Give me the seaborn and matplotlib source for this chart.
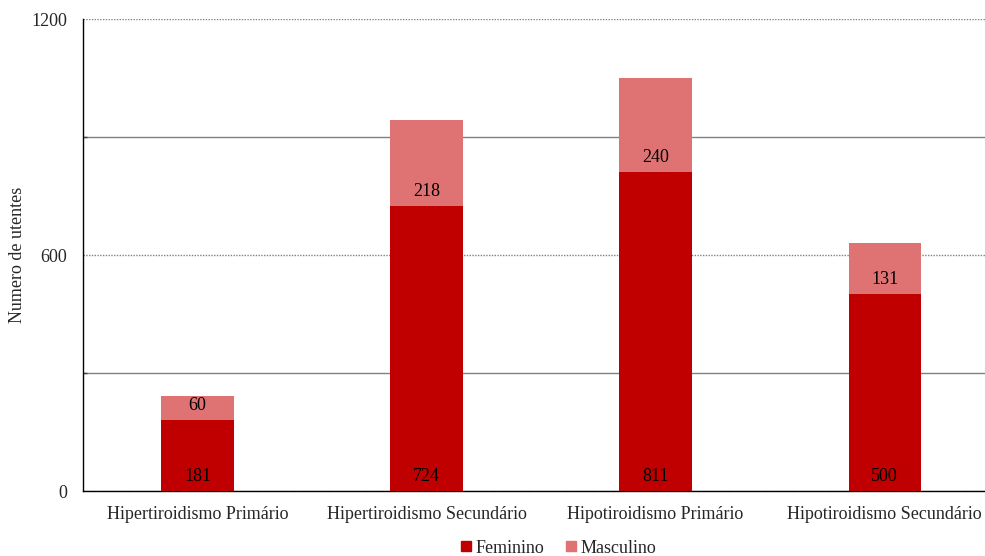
import matplotlib
matplotlib.use("Agg")
import matplotlib.pyplot as plt
from matplotlib.lines import Line2D
from matplotlib.ticker import MultipleLocator
import seaborn as sns
import pandas as pd

categorias = ["Hipertiroidismo Primário", "Hipertiroidismo Secundário",
              "Hipotiroidismo Primário", "Hipotiroidismo Secundário"]
feminino = [181, 724, 811, 500]
masculino = [60, 218, 240, 131]
y_ticks = [0, 600, 1200]

cor_fem = "#C00000"
cor_masc = "#DF7373"

sns.set_theme(style="white")
plt.rcParams["font.family"] = ["Liberation Serif", "DejaVu Serif"]

df = pd.DataFrame({
    "categoria": categorias,
    "Feminino": feminino,
    "Masculino": masculino,
})
df["total"] = df["Feminino"] + df["Masculino"]

fig = plt.figure(figsize=(9.85, 5.56), dpi=100)
ax = fig.add_axes([0.0843, 0.1169, 0.930, 0.8489])

# stacked bars: total in the light tone, female share drawn over it
sns.barplot(data=df, x="categoria", y="total", color=cor_masc, width=0.315,
            saturation=1, linewidth=0, ax=ax, zorder=3)
sns.barplot(data=df, x="categoria", y="Feminino", color=cor_fem, width=0.315,
            saturation=1, linewidth=0, ax=ax, zorder=4)

for i, (f, m) in enumerate(zip(feminino, masculino)):
    ax.annotate(str(f), (i, 0), xytext=(0, 10.5), textcoords="offset points",
                ha="center", va="center", fontsize=13, color="black", zorder=5)
    ax.annotate(str(m), (i, f), xytext=(0, 10.5), textcoords="offset points",
                ha="center", va="center", fontsize=13, color="black", zorder=5)

ax.set_ylim(0, 1200)
ax.set_xlim(-0.5, len(categorias) - 0.5)
ax.set_yticks(y_ticks)
ax.yaxis.set_minor_locator(MultipleLocator(300))
ax.grid(False)
ax.grid(which="major", axis="y", color="#808080", linestyle=(0, (1, 1)),
        linewidth=1.0, zorder=0)
ax.grid(which="minor", axis="y", color="#808080", linestyle="-",
        linewidth=1.0, zorder=0)

ax.set_xlabel("")
ax.set_ylabel("Numero de utentes", fontsize=13, va="center")
ax.yaxis.set_label_coords(-0.072, 0.5)
ax.tick_params(axis="x", length=0, labelsize=13, pad=11)
ax.tick_params(axis="y", which="major", direction="in", length=3,
               labelsize=13, pad=11.5, color="#404040")
ax.tick_params(axis="y", which="minor", direction="in", length=3,
               color="#404040", left=True)

for side in ["top", "right"]:
    ax.spines[side].set_visible(False)
for side in ["left", "bottom"]:
    ax.spines[side].set_color("black")
    ax.spines[side].set_linewidth(1.0)

handles = [
    Line2D([], [], marker="s", linestyle="none", markersize=7,
           markerfacecolor=cor_fem, markeredgecolor=cor_fem, label="Feminino"),
    Line2D([], [], marker="s", linestyle="none", markersize=7,
           markerfacecolor=cor_masc, markeredgecolor=cor_masc, label="Masculino"),
]
fig.legend(handles=handles, loc="center", bbox_to_anchor=(0.565, 0.014),
           ncol=2, frameon=False, fontsize=13, handletextpad=0.0,
           columnspacing=1.0, handlelength=1.0)

fig.savefig("out.png", dpi=100)
